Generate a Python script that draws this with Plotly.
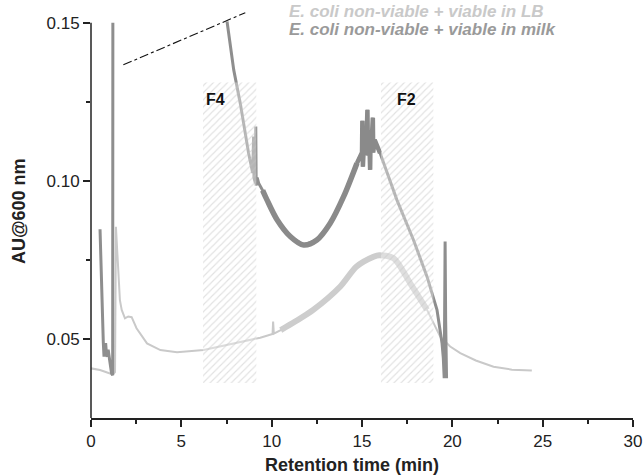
import plotly.graph_objects as go

# ---------------- data ----------------
lb_time = [0.0, 0.5, 1.05, 1.25, 1.33, 1.38, 1.45, 1.51, 1.6, 1.7, 1.88, 2.06, 2.25, 2.52,
           3.1, 3.84, 4.76, 6.23, 7.9, 9.37, 10.05, 10.08, 10.12, 10.5, 11.3, 12.3, 13.8,
           14.7, 15.64, 15.95, 16.75, 17.67, 18.6, 19.33, 19.88, 20.44, 21.3, 22.28, 23.3, 24.4]
lb_au = [0.0407, 0.0402, 0.0391, 0.0390, 0.0395, 0.0855, 0.0780, 0.0709, 0.0623, 0.0592,
         0.0565, 0.0571, 0.0569, 0.0534, 0.0486, 0.0465, 0.0458, 0.0465, 0.0486, 0.0504,
         0.0516, 0.0555, 0.0517, 0.0528, 0.0555, 0.0592, 0.0666, 0.0729, 0.0760, 0.0765,
         0.0755, 0.0676, 0.0592, 0.0507, 0.0476, 0.0455, 0.0432, 0.0412, 0.0403, 0.0400]

milk_time = [0.5, 0.55, 0.62, 0.68, 0.72, 0.77, 0.81, 0.86, 0.9, 0.95, 1.05, 1.14, 1.2, 1.21,
             None,
             7.53, 7.9, 8.26, 8.72, 8.95, 9.0, 9.02, 9.1, 9.12, 9.14, 9.2, 9.28, 9.5, 9.74,
             10.3, 11.03, 11.77, 12.5, 13.24, 13.98, 14.72, 15.0, 15.02, 15.05, 15.1, 15.25,
             15.3, 15.33, 15.4, 15.45, 15.48, 15.55, 15.6, 15.62, 15.7, 16.0, 16.93, 17.85,
             18.6, 19.15, 19.43, 19.5, 19.55, 19.58, 19.6, 19.63, 19.66, 19.68]
milk_au = [0.0847, 0.0720, 0.0580, 0.0490, 0.0444, 0.0480, 0.0487, 0.0450, 0.0444, 0.0466,
           0.0420, 0.0391, 0.0385, 0.1500,
           None,
           0.1504, 0.1351, 0.1246, 0.1088, 0.1025, 0.1140, 0.1010, 0.0993, 0.1172, 0.0985,
           0.1010, 0.0993, 0.0970, 0.0940, 0.0877, 0.0824, 0.0797, 0.0813, 0.0866, 0.0950,
           0.1056, 0.1090, 0.1190, 0.1045, 0.1110, 0.1130, 0.1225, 0.1080, 0.1140, 0.1035,
           0.1160, 0.1140, 0.1200, 0.1090, 0.1130, 0.1088, 0.0940, 0.0813, 0.0697, 0.0592,
           0.0486, 0.0440, 0.0376, 0.0560, 0.0808, 0.0560, 0.0460, 0.0376]

fraction_names = ["F4", "F2"]
fraction_start = [6.2, 16.05]
fraction_end = [9.15, 18.95]
fraction_low = 0.0361
fraction_high = 0.1311
fraction_label_x = [6.9, 17.45]
fraction_label_y = 0.1256

break_t = [1.79, 8.54]
break_au = [0.1367, 0.1532]

series_names = ["E. coli non-viable + viable in LB", "E. coli non-viable + viable in milk"]

x_ticks = [0, 5, 10, 15, 20, 25, 30]
y_ticks = [0.05, 0.10, 0.15]
y_tick_text = ["0.05", "0.10", "0.15"]

# ---------------- figure ----------------
W, H = 644, 475
ML, MR, MT, MB = 91, 11, 7, 57
PW, PH = W - ML - MR, H - MT - MB


def px_x(px):
    return (px - ML) / PW


def px_y(py):
    return (H - MB - py) / PH


def subset(ts, vs, lo, hi):
    pts = [(t, v) for t, v in zip(ts, vs) if t is not None and lo <= t <= hi]
    return [p[0] for p in pts], [p[1] for p in pts]


FONT = "Liberation Sans, Arial, Helvetica, sans-serif"
LB_COLOR = "#c9c9c9"
MILK_COLOR = "#8e8e8e"
AX = "#222222"

fig = go.Figure()

# LB trace (thin), plus thicker noisy band in the broad peak region
fig.add_trace(go.Scatter(x=lb_time, y=lb_au, mode="lines",
                         line=dict(color=LB_COLOR, width=2), showlegend=False, hoverinfo="skip"))
bx, by = subset(lb_time, lb_au, 10.5, 18.7)
fig.add_trace(go.Scatter(x=bx, y=by, mode="lines",
                         line=dict(color="#cdcdcd", width=6, shape="spline", smoothing=0.8),
                         showlegend=False, hoverinfo="skip"))

# milk trace
fig.add_trace(go.Scatter(x=milk_time, y=milk_au, mode="lines", connectgaps=False,
                         line=dict(color=MILK_COLOR, width=3), showlegend=False, hoverinfo="skip"))
mx, my = subset(milk_time, milk_au, 9.3, 14.75)
fig.add_trace(go.Scatter(x=mx, y=my, mode="lines",
                         line=dict(color="#8a8a8a", width=5.5, shape="spline", smoothing=0.9),
                         showlegend=False, hoverinfo="skip"))
mx2, my2 = subset(milk_time, milk_au, 14.72, 16.0)
fig.add_trace(go.Scatter(x=mx2, y=my2, mode="lines",
                         line=dict(color="#8a8a8a", width=4.5),
                         showlegend=False, hoverinfo="skip"))

# hatched fraction boxes (drawn above the curves, semi-transparent)
for s, e in zip(fraction_start, fraction_end):
    fig.add_trace(go.Scatter(
        x=[s, e, e, s, s],
        y=[fraction_low, fraction_low, fraction_high, fraction_high, fraction_low],
        mode="lines", fill="toself", line=dict(width=0, color="rgba(0,0,0,0)"),
        fillcolor="rgba(255,255,255,0.35)",
        fillpattern=dict(shape="/", fgcolor="#c4c4c4", bgcolor="rgba(255,255,255,0.35)",
                         size=5, solidity=0.22),
        showlegend=False, hoverinfo="skip"))

# dash-dot break line
fig.add_trace(go.Scatter(x=break_t, y=break_au, mode="lines",
                         line=dict(color="#111111", width=1.1, dash="dashdot"),
                         showlegend=False, hoverinfo="skip"))

# fraction labels
for name, lx in zip(fraction_names, fraction_label_x):
    fig.add_annotation(x=lx, y=fraction_label_y, xref="x", yref="y", text="<b>%s</b>" % name,
                       showarrow=False, font=dict(family=FONT, size=16, color="#111111"))

# legend as text lines
legend_colors = [LB_COLOR, "#9a9a9a"]
legend_y = [12, 29]  # pixel centres
for name, col, py in zip(series_names, legend_colors, legend_y):
    fig.add_annotation(x=px_x(287), y=px_y(py), xref="paper", yref="paper",
                       text="<b><i>%s</i></b>" % name,
                       showarrow=False, xanchor="left", yanchor="middle",
                       font=dict(family=FONT, size=17, color=col))

# axis titles
fig.add_annotation(text="<b>Retention time (min)</b>", x=px_x(352), y=px_y(465),
                   xref="paper", yref="paper",
                   showarrow=False, xanchor="center", yanchor="middle",
                   font=dict(family=FONT, size=18, color=AX))
fig.add_annotation(text="<b>AU@600 nm</b>", x=px_x(19), y=px_y(211), xref="paper", yref="paper",
                   showarrow=False, textangle=-90, xanchor="center", yanchor="middle",
                   font=dict(family=FONT, size=18, color=AX))

# y axis line (stops at 0.15)
fig.add_shape(type="line", xref="paper", yref="y", x0=0, x1=0, y0=0.025, y1=0.15,
              line=dict(color=AX, width=1.5), layer="above")

fig.update_layout(
    width=W, height=H,
    margin=dict(l=ML, r=MR, t=MT, b=MB),
    paper_bgcolor="white", plot_bgcolor="white",
    font=dict(family=FONT, size=17, color=AX),
    showlegend=False,
)

fig.update_xaxes(range=[0, 30], tickvals=x_ticks, showline=True, linecolor=AX, linewidth=1.5,
                 ticks="outside", ticklen=7, tickwidth=1.5, tickcolor=AX, showgrid=False,
                 zeroline=False, automargin=False, tickfont=dict(family=FONT, size=17, color=AX),
                 minor=dict(dtick=2.5, ticks="outside", ticklen=4, tickwidth=1.5, tickcolor=AX,
                            showgrid=False))
fig.update_yaxes(range=[0.025, 0.155], tickvals=y_ticks, ticktext=y_tick_text, showline=False,
                 ticks="outside", ticklen=7, tickwidth=1.5, tickcolor=AX, showgrid=False,
                 zeroline=False, automargin=False, tickfont=dict(family=FONT, size=17, color=AX),
                 minor=dict(tickvals=[0.075, 0.125], ticks="outside", ticklen=4, tickwidth=1.5,
                            tickcolor=AX, showgrid=False))

fig.write_html("out.html", config={"displayModeBar": False},
               post_script="document.body.style.margin='0';document.body.style.overflow='hidden';")
